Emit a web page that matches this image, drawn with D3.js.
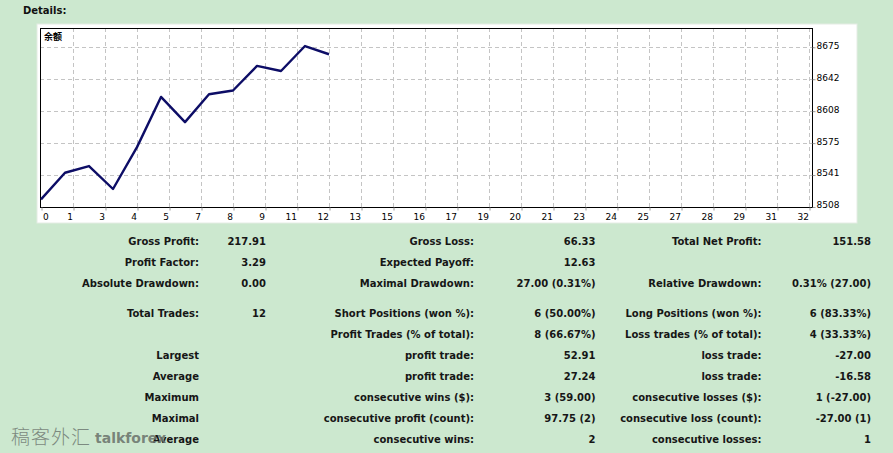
<!DOCTYPE html>
<html>
<head>
<meta charset="utf-8">
<script src="https://cdn.jsdelivr.net/npm/d3@7/dist/d3.min.js"></script>
<style>
  html, body { margin: 0; padding: 0; background: #cce8cf; }
  svg { display: block; }
</style>
</head>
<body>
<svg id="chart" width="893" height="453"></svg>
<script>
// ---------- data ----------
const tradeIndex = [0, 1, 2, 3, 4, 5, 6, 7, 8, 9, 10, 11, 12];
const balance = [8515.5, 8543.3, 8550.3, 8526.3, 8570.1, 8622.6, 8596.2, 8625.4, 8629.3, 8655.0, 8649.7, 8675.8, 8667.2];
const seriesName = "余额";
const xTickLabels = ["0","1","3","4","5","7","8","9","11","12","13","15","16","17","19","20","21","23","24","25","27","28","29","31","32"];
const yTickLabels = ["8508","8541","8575","8608","8642","8675"];
const xDomain = [0, 32];
const yDomain = [8508, 8675];

const col1 = ["Gross Profit:", "Profit Factor:", "Absolute Drawdown:", "Total Trades:", "", "Largest", "Average", "Maximum", "Maximal", "Average"];
const col2 = ["217.91", "3.29", "0.00", "12", "", "", "", "", "", ""];
const col3 = ["Gross Loss:", "Expected Payoff:", "Maximal Drawdown:", "Short Positions (won %):", "Profit Trades (% of total):", "profit trade:", "profit trade:", "consecutive wins ($):", "consecutive profit (count):", "consecutive wins:"];
const col4 = ["66.33", "12.63", "27.00 (0.31%)", "6 (50.00%)", "8 (66.67%)", "52.91", "27.24", "3 (59.00)", "97.75 (2)", "2"];
const col5 = ["Total Net Profit:", "", "Relative Drawdown:", "Long Positions (won %):", "Loss trades (% of total):", "loss trade:", "loss trade:", "consecutive losses ($):", "consecutive loss (count):", "consecutive losses:"];
const col6 = ["151.58", "", "0.31% (27.00)", "6 (83.33%)", "4 (33.33%)", "-27.00", "-16.58", "1 (-27.00)", "-27.00 (1)", "1"];

// ---------- layout ----------
const svg = d3.select("#chart");
const W = 893, H = 453;
svg.append("rect").attr("width", W).attr("height", H).attr("fill", "#cce8cf");

// Title
svg.append("text").attr("x", 23).attr("y", 14)
  .attr("font-family", "DejaVu Sans").attr("font-weight", "bold").attr("font-size", 10)
  .attr("fill", "#111").text("Details:");

// White panel
svg.append("rect").attr("x", 37).attr("y", 24).attr("width", 820).attr("height", 199)
  .attr("fill", "#ffffff").attr("stroke", "#e4ece4").attr("stroke-width", 1);

const plot = { left: 40, right: 812, top: 28, bottom: 207 };

const x = d3.scaleLinear().domain(xDomain).range([41, 809]);
const y = d3.scaleLinear().domain(yDomain).range([206.5, 46.8]);

// grid positions for x labels: evenly spaced steps
const xTickVals = xTickLabels.map((_, i) => xDomain[0] + i * (xDomain[1] - xDomain[0]) / (xTickLabels.length - 1));
const yTickVals = yTickLabels.map((_, i) => yDomain[0] + i * (yDomain[1] - yDomain[0]) / (yTickLabels.length - 1));

const g = svg.append("g");

// vertical dashed grid
g.selectAll("line.vg").data(xTickVals.slice(1)).join("line")
  .attr("x1", d => Math.round(x(d)) + 0.5).attr("x2", d => Math.round(x(d)) + 0.5)
  .attr("y1", plot.top).attr("y2", plot.bottom + 3)
  .attr("stroke", "#c4c4c4").attr("stroke-width", 1).attr("stroke-dasharray", "4,3");

// horizontal dashed grid
g.selectAll("line.hg").data(yTickVals.slice(1)).join("line")
  .attr("x1", plot.left).attr("x2", plot.right + 4)
  .attr("y1", d => Math.round(y(d)) + 0.5).attr("y2", d => Math.round(y(d)) + 0.5)
  .attr("stroke", "#c4c4c4").attr("stroke-width", 1).attr("stroke-dasharray", "4,3");

// frame
g.append("rect").attr("x", plot.left + 0.5).attr("y", plot.top + 0.5)
  .attr("width", plot.right - plot.left).attr("height", plot.bottom - plot.top)
  .attr("fill", "none").attr("stroke", "#000").attr("stroke-width", 1);

// x axis via d3 axis
const xAxis = d3.axisBottom(x).tickValues(xTickVals).tickSize(3).tickFormat((d, i) => xTickLabels[i]);
const xg = svg.append("g").attr("transform", `translate(0.5,${plot.bottom + 0.5})`).call(xAxis);
xg.select(".domain").remove();
xg.selectAll(".tick line").attr("stroke", "#999");
xg.selectAll(".tick text")
  .attr("font-family", "DejaVu Sans").attr("font-size", 9).attr("fill", "#000")
  .attr("y", 6).attr("dy", "0.71em")
  .attr("text-anchor", (d, i) => i === 0 ? "start" : "end")
  .attr("x", (d, i) => i === 0 ? 1 : -1);

// y axis on right
const yAxis = d3.axisRight(y).tickValues(yTickVals).tickSize(3).tickFormat((d, i) => yTickLabels[i]);
const yg = svg.append("g").attr("transform", `translate(${plot.right + 0.5},0.5)`).call(yAxis);
yg.select(".domain").remove();
yg.selectAll(".tick line").attr("stroke", "#999");
yg.selectAll(".tick text")
  .attr("font-family", "DejaVu Sans").attr("font-size", 9).attr("fill", "#000")
  .attr("x", 4).attr("dy", "0.1em");

// legend label
svg.append("text").attr("x", 44).attr("y", 40)
  .attr("font-family", "Noto Sans CJK SC").attr("font-size", 9).attr("font-weight", "bold")
  .attr("fill", "#000").text(seriesName);

// balance line
const line = d3.line().x((d, i) => x(tradeIndex[i])).y(d => y(d));
svg.append("path").datum(balance)
  .attr("d", line).attr("fill", "none")
  .attr("stroke", "#0d0d66").attr("stroke-width", 2.4).attr("stroke-linejoin", "round");

// ---------- table ----------
const rowCenters = [241, 262, 283, 313, 334, 355, 376, 397, 418, 439];
const colRight = [199, 266, 474, 595.5, 761.5, 871];
const cols = [col1, col2, col3, col4, col5, col6];
const tg = svg.append("g").attr("font-family", "DejaVu Sans").attr("font-weight", "bold")
  .attr("font-size", 10).attr("fill", "#161616").attr("text-anchor", "end");
cols.forEach((col, ci) => {
  tg.selectAll(null).data(col).join("text")
    .attr("x", colRight[ci]).attr("y", (d, ri) => rowCenters[ri] + 4)
    .text(d => d);
});

// ---------- watermark ----------
svg.append("text").attr("x", 11).attr("y", 444)
  .attr("font-family", "Noto Sans CJK SC").attr("font-size", 19).attr("font-weight", 300)
  .attr("letter-spacing", 1).attr("fill", "#7c8a80").text("稿客外汇");
svg.append("text").attr("x", 95).attr("y", 443)
  .attr("font-family", "DejaVu Sans").attr("font-size", 14).attr("font-weight", "bold")
  .attr("fill", "#6c766e").attr("fill-opacity", 0.9).text("talkforex");
</script>
</body>
</html>
